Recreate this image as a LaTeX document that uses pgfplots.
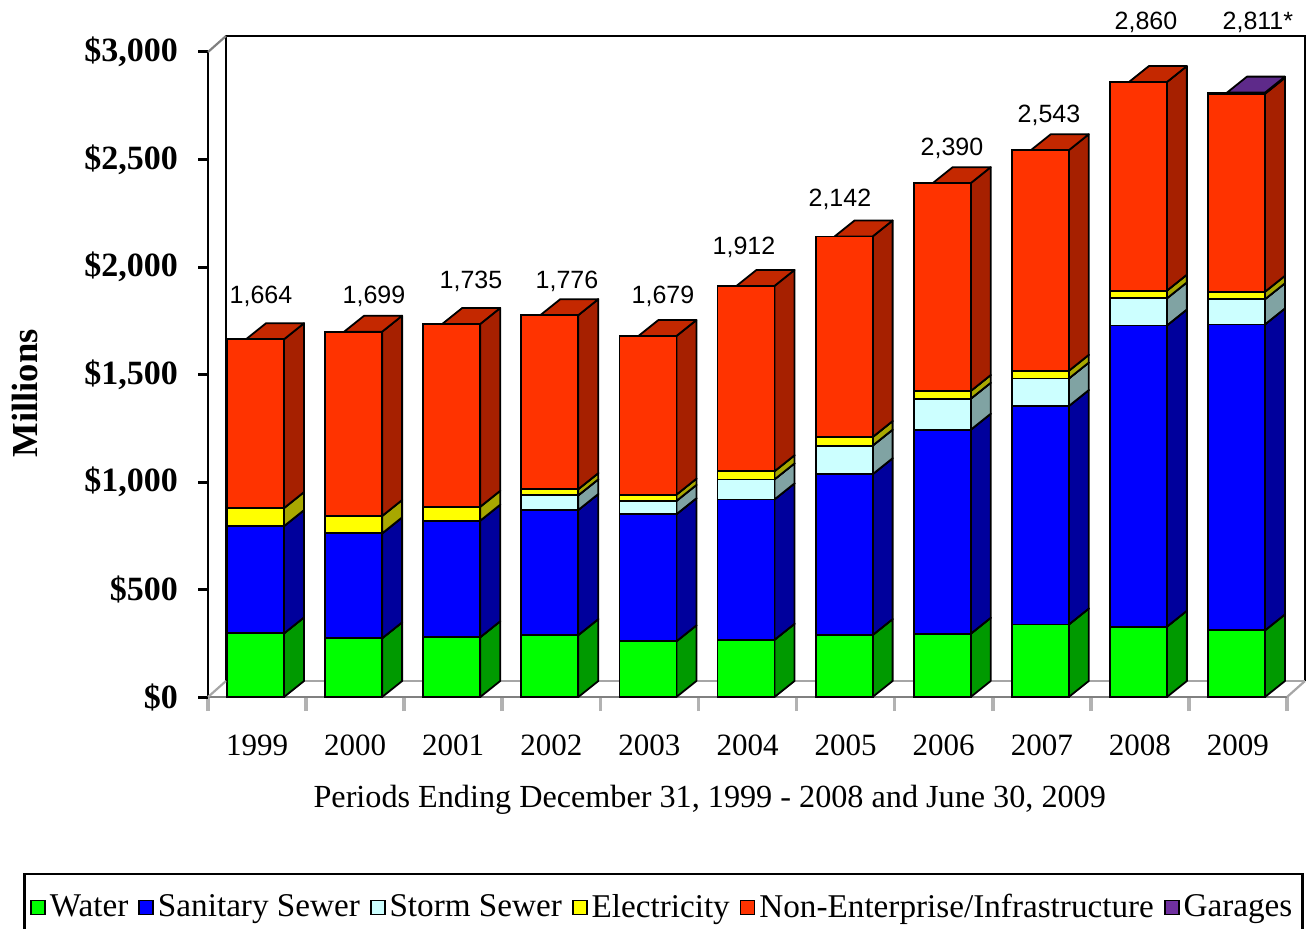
\documentclass[border=0pt]{standalone}
\usepackage{pgfplots}
\pgfplotsset{compat=1.18}
\usepackage{pgfplotstable}
\usetikzlibrary{decorations.pathreplacing}
\usepackage{fontspec}
\setmainfont{Liberation Serif}
\newfontfamily\arial{Liberation Sans}

\definecolor{wf}{HTML}{00FF00}\definecolor{ws}{HTML}{009A00}\definecolor{wt}{HTML}{00C000}
\definecolor{sf}{HTML}{0000FF}\definecolor{ss}{HTML}{00009C}\definecolor{st}{HTML}{0000C0}
\definecolor{tf}{HTML}{CCFFFF}\definecolor{ts}{HTML}{80A3A3}\definecolor{tt}{HTML}{A0CCCC}
\definecolor{ef}{HTML}{FFFF00}\definecolor{es}{HTML}{A8A800}\definecolor{et}{HTML}{CCCC00}
\definecolor{nf}{HTML}{FF3300}\definecolor{ns}{HTML}{A62000}\definecolor{nt}{HTML}{C42800}
\definecolor{gf}{HTML}{7030A0}\definecolor{gs}{HTML}{4E2070}\definecolor{gt}{HTML}{5E2A8A}

\newdimen\bxa \newdimen\bxb \newdimen\bya \newdimen\byb \newdimen\tmpd \newdimen\tmpw
\newcommand\drawbox[2]{%
  \tmpd=\byb \advance\tmpd by -\bya
  \tmpw=\bxb \advance\tmpw by -\bxa
  \ifdim\tmpd>0.3pt
    \filldraw[fill=#1,draw=black,line width=0.9pt,line join=round]
      (\the\bxb,\the\bya) -- ++(10pt,8pt) -- ++(0pt,\the\tmpd) -- (\the\bxb,\the\byb) -- cycle;
    \filldraw[fill=#2,draw=black,line width=0.9pt,line join=round]
      (\the\bxa,\the\byb) -- (\the\bxb,\the\byb) -- ++(10pt,8pt) -- ++(-\the\tmpw,0pt) -- cycle;
  \fi}
\tikzset{
  box3d/.style 2 args={preaction={decorate,decoration={show path construction,
    moveto code={\pgfextractx{\tmpd}{\tikzinputsegmentfirst}\global\bxa=\tmpd\global\bxb=\tmpd
      \pgfextracty{\tmpd}{\tikzinputsegmentfirst}\global\bya=\tmpd\global\byb=\tmpd},
    lineto code={\pgfextractx{\tmpd}{\tikzinputsegmentlast}%
      \ifdim\tmpd<\bxa\global\bxa=\tmpd\fi
      \ifdim\tmpd>\bxb\global\bxb=\tmpd\fi
      \pgfextracty{\tmpd}{\tikzinputsegmentlast}%
      \ifdim\tmpd<\bya\global\bya=\tmpd\fi
      \ifdim\tmpd>\byb\global\byb=\tmpd\fi},
    closepath code={\drawbox{#1}{#2}}}}}
}

\pgfplotstableread{
x W S St E N G lab lx ly
0 296 499 0 84 785 0 1,664 0.040 1865
1 273 488 0 81 857 0 1,699 1.192 1865
2 278 542 0 65 850 0 1,735 2.181 1935
3 288 582 68 29 809 0 1,776 3.160 1935
4 259 591 62 29 738 0 1,679 4.138 1865
5 266 653 93 38 862 0 1,912 4.964 2093
6 288 748 133 40 933 0 2,142 5.942 2316
7 294 949 144 36 967 0 2,390 7.084 2553
8 337 1016 128 36 1026 0 2,543 8.073 2707
9 327 1401 126 36 970 0 2,860 9.062 3139
10 310 1423 117 35 921 5 2,811* 10.203 3139
}\datatable

\pgfplotsset{frame3d/.style={scale only axis, width=539.5pt, height=322.5pt,
  xmin=-0.5, xmax=10.5, ymin=0, ymax=3000, anchor=south west, clip=false}}

\begin{document}
\begin{tikzpicture}
\useasboundingbox (0,0) rectangle (655.5pt,464pt);
% back wall and floor back edge
\begin{axis}[frame3d, at={(113pt,123.5pt)}, hide axis]
  \draw[black, line width=1.1pt] (rel axis cs:0,0) -- (rel axis cs:0,1) -- (rel axis cs:1,1) -- (rel axis cs:1,0);
  \draw[gray!70, line width=1.1pt] (rel axis cs:0,0) -- (rel axis cs:1,0);
\end{axis}
% bars
\begin{axis}[frame3d, at={(104pt,115.5pt)},
  ybar stacked, reverse stacked plots=false, bar width=28.5pt, bar shift=-0.75pt,
  axis x line*=bottom, axis y line*=left,
  x axis line style={draw=gray, line width=1.2pt},
  y axis line style={draw=black, line width=1.1pt},
  tick align=outside, major tick length=5pt, minor tick length=7pt,
  ytick={0,500,...,3000},
  yticklabels={\$0,\$500,{\$1,000},{\$1,500},{\$2,000},{\$2,500},{\$3,000}},
  ytick style={black, line width=1.5pt},
  yticklabel style={font=\bfseries\fontsize{17}{19}\selectfont, xshift=-6.5pt},
  xtick={0,...,10},
  xticklabels={1999,2000,2001,2002,2003,2004,2005,2006,2007,2008,2009},
  xtick style={draw=none},
  minor xtick={-0.5,0.5,...,10.5},
  minor x tick style={draw=gray!60, line width=1.8pt},
  xticklabel style={font=\fontsize{15.5}{18}\selectfont, yshift=-10.5pt},
  xlabel={Periods Ending December 31, 1999 - 2008 and June 30, 2009},
  xlabel style={at={(axis description cs:0.465,-0.16)}, anchor=center, font=\fontsize{16.1}{18}\selectfont},
  ylabel={Millions},
  ylabel style={at={(axis description cs:-0.170,0.471)}, anchor=center, font=\bfseries\fontsize{18.3}{20}\selectfont},
  legend columns=-1,
  legend style={at={(0.422,-0.273)}, anchor=north, draw=black, line width=1.2pt, inner ysep=8pt,
    font=\fontsize{16.6}{18}\selectfont, /tikz/every even column/.append style={column sep=3pt}},
  legend image code/.code={\filldraw[#1, draw=black, line width=0.8pt] (0pt,-3.5pt) rectangle (7pt,3.5pt);},
]
  \addplot[fill=wf, draw=black, line width=0.9pt, box3d={ws}{wt}, forget plot] table[x=x,y=W] \datatable;
  \addplot[fill=sf, draw=black, line width=0.9pt, box3d={ss}{st}, forget plot] table[x=x,y=S] \datatable;
  \addplot[fill=tf, draw=black, line width=0.9pt, box3d={ts}{tt}, forget plot] table[x=x,y=St] \datatable;
  \addplot[fill=ef, draw=black, line width=0.9pt, box3d={es}{et}, forget plot] table[x=x,y=E] \datatable;
  \addplot[fill=nf, draw=black, line width=0.9pt, box3d={ns}{nt}, forget plot] table[x=x,y=N] \datatable;
  \addplot[fill=gf, draw=black, line width=0.9pt, box3d={gs}{gt}, forget plot] table[x=x,y=G] \datatable;
  \addlegendimage{fill=wf}\addlegendentry{Water}
  \addlegendimage{fill=sf}\addlegendentry{Sanitary Sewer}
  \addlegendimage{fill=tf}\addlegendentry{Storm Sewer}
  \addlegendimage{fill=ef}\addlegendentry{Electricity}
  \addlegendimage{fill=nf}\addlegendentry{Non-Enterprise/Infrastructure}
  \addlegendimage{fill=gf}\addlegendentry{Garages}
  \draw[gray, line width=1.1pt] (rel axis cs:0,1) -- ++(9pt,8pt);
  \draw[gray!70, line width=1.1pt] (rel axis cs:0,0) -- ++(9pt,8pt);
  \draw[gray!70, line width=1.1pt] (rel axis cs:1,0) -- ++(9pt,8pt);
\end{axis}
% total labels
\begin{axis}[frame3d, at={(104pt,115.5pt)}, hide axis]
  \addplot[only marks, mark=*, mark size=0pt, mark options={opacity=0},
    nodes near coords, point meta=explicit symbolic,
    every node near coord/.style={anchor=center, inner sep=0pt, opacity=1, font=\arial\fontsize{12.5}{14}\selectfont}]
    table[x=lx, y=ly, meta=lab] \datatable;
\end{axis}
\end{tikzpicture}
\end{document}
